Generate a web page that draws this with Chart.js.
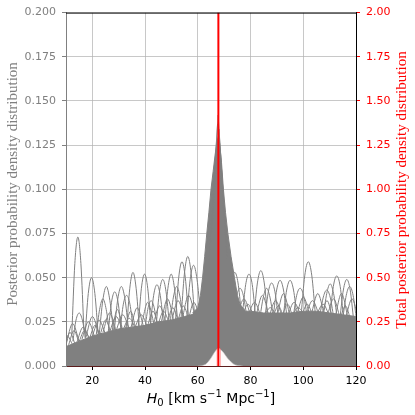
<!DOCTYPE html>
<html>
<head>
<meta charset="utf-8">
<script src="https://cdn.jsdelivr.net/npm/chart.js@4.4.1/dist/chart.umd.min.js"></script>
<style>
  html, body { margin: 0; padding: 0; background: #fff; }
</style>
</head>
<body>
<canvas id="chart" width="415" height="415"></canvas>
<script>
// H0 axis ticks and the measured value of the red line
const h0Ticks = [20, 40, 60, 80, 100, 120];
const h0Best = 67.8;

// solid mass of the overlapping gray posteriors (left axis)
const bandH0 = [10, 15, 20, 25, 30, 35, 40, 45, 50, 55, 60, 75, 80, 85, 90, 95, 100, 105, 110, 115, 120];
const bandTop = [0.011, 0.014, 0.017, 0.019, 0.021, 0.022, 0.023, 0.025, 0.026, 0.028, 0.030,
                 0.031, 0.031, 0.030, 0.030, 0.030, 0.031, 0.031, 0.030, 0.029, 0.028];

// central peak where the posteriors pile up
const peakH0 = [58, 60, 61, 61.8, 62.6, 63.4, 64.2, 65.0, 65.8, 66.6, 67.3, 67.8, 68.3, 69.0, 69.7, 70.5, 71.4, 72.6, 73.9, 75, 76, 78];
const peakTop = [0.030, 0.033, 0.04, 0.05, 0.062, 0.075, 0.087, 0.10, 0.11, 0.12, 0.127, 0.13, 0.126,
                 0.115, 0.10, 0.087, 0.075, 0.062, 0.05, 0.04, 0.035, 0.031];

// thin curves reaching the tip of the peak
const peakTips = [
  [[64.2, 0.06], [67.7, 0.142], [71.2, 0.06]],
  [[64.8, 0.07], [67.5, 0.137], [70.6, 0.07]],
  [[65.2, 0.075], [68.0, 0.134], [70.8, 0.07]]
];

// lobes of the event posteriors that stick out of the mass: [H0, density]
const arches = [
  [[12.2, 0.018], [13.35, 0.058], [14.5, 0.073], [15.65, 0.058], [16.8, 0.020]],
  [[12.6, 0.014], [13.8, 0.026], [15.0, 0.030], [16.2, 0.026], [17.4, 0.016]],
  [[17.2, 0.016], [18.45, 0.041], [19.7, 0.050], [20.95, 0.041], [22.2, 0.018]],
  [[21.5, 0.018], [22.75, 0.032], [24.0, 0.038], [25.25, 0.032], [26.5, 0.019]],
  [[22.6, 0.018], [23.95, 0.037], [25.3, 0.045], [26.65, 0.037], [28.0, 0.020]],
  [[26.0, 0.019], [27.25, 0.036], [28.5, 0.042], [29.75, 0.036], [31.0, 0.020]],
  [[28.3, 0.020], [29.65, 0.038], [31.0, 0.045], [32.35, 0.038], [33.7, 0.021]],
  [[30.5, 0.020], [31.75, 0.035], [33.0, 0.040], [34.25, 0.035], [35.5, 0.021]],
  [[33.0, 0.021], [34.2, 0.044], [35.4, 0.053], [36.6, 0.044], [37.8, 0.022]],
  [[37.4, 0.022], [38.6, 0.044], [39.8, 0.052], [41.0, 0.044], [42.2, 0.023]],
  [[40.0, 0.022], [41.15, 0.033], [42.3, 0.037], [43.45, 0.033], [44.6, 0.023]],
  [[42.0, 0.023], [43.25, 0.040], [44.5, 0.046], [45.75, 0.040], [47.0, 0.024]],
  [[44.2, 0.023], [45.45, 0.042], [46.7, 0.049], [47.95, 0.042], [49.2, 0.024]],
  [[47.4, 0.024], [48.65, 0.044], [49.9, 0.052], [51.15, 0.044], [52.4, 0.025]],
  [[49.5, 0.025], [50.75, 0.039], [52.0, 0.045], [53.25, 0.039], [54.5, 0.026]],
  [[51.5, 0.025], [52.75, 0.050], [54.0, 0.059], [55.25, 0.050], [56.5, 0.027]],
  [[53.6, 0.026], [54.9, 0.052], [56.2, 0.062], [57.5, 0.052], [58.8, 0.028]],
  [[55.8, 0.027], [57.1, 0.049], [58.4, 0.057], [59.7, 0.049], [61.0, 0.030]],
  [[71.5, 0.032], [72.75, 0.047], [74.0, 0.053], [75.25, 0.047], [76.5, 0.030]],
  [[73.5, 0.030], [74.75, 0.040], [76.0, 0.044], [77.25, 0.040], [78.5, 0.029]],
  [[76.9, 0.029], [78.15, 0.046], [79.4, 0.052], [80.65, 0.046], [81.9, 0.028]],
  [[81.3, 0.028], [82.6, 0.047], [83.9, 0.054], [85.2, 0.047], [86.5, 0.028]],
  [[83.6, 0.028], [84.85, 0.039], [86.1, 0.044], [87.35, 0.039], [88.6, 0.028]],
  [[85.5, 0.028], [86.75, 0.042], [88.0, 0.047], [89.25, 0.042], [90.5, 0.028]],
  [[88.6, 0.028], [89.9, 0.043], [91.2, 0.0485], [92.5, 0.043], [93.8, 0.028]],
  [[92.4, 0.028], [93.7, 0.043], [95.0, 0.0485], [96.3, 0.043], [97.6, 0.028]],
  [[96.2, 0.028], [97.5, 0.040], [98.8, 0.044], [100.1, 0.040], [101.4, 0.029]],
  [[99.2, 0.029], [100.55, 0.051], [101.9, 0.059], [103.25, 0.051], [104.6, 0.029]],
  [[106.3, 0.029], [107.6, 0.039], [108.9, 0.043], [110.2, 0.039], [111.5, 0.028]],
  [[107.6, 0.028], [108.9, 0.041], [110.2, 0.0465], [111.5, 0.041], [112.8, 0.028]],
  [[110.1, 0.028], [111.4, 0.045], [112.7, 0.051], [114.0, 0.045], [115.3, 0.027]],
  [[113.9, 0.027], [115.2, 0.043], [116.5, 0.049], [117.8, 0.043], [119.1, 0.026]],
  [[115.0, 0.027], [116.3, 0.040], [117.6, 0.045], [118.9, 0.040], [120.2, 0.026]]
];

// smaller lobes tangled just above the mass
const lowArches = [
  [[9.5, 0.010], [11.5, 0.019], [13.5, 0.012]],
  [[10.0, 0.012], [12.5, 0.024], [15.0, 0.014]],
  [[8.5, 0.010], [10.5, 0.017], [12.5, 0.012]],
  [[11.0, 0.012], [13.0, 0.020], [15.0, 0.013]],
  [[14.0, 0.013], [16.5, 0.022], [19.0, 0.015]],
  [[15.0, 0.014], [17.0, 0.020], [19.0, 0.015]],
  [[16.0, 0.015], [18.5, 0.025], [21.0, 0.016]],
  [[17.5, 0.016], [20.0, 0.028], [22.5, 0.018]],
  [[19.0, 0.016], [21.0, 0.023], [23.0, 0.017]],
  [[20.0, 0.017], [22.5, 0.026], [25.0, 0.018]],
  [[23.0, 0.018], [25.0, 0.026], [27.0, 0.019]],
  [[24.0, 0.019], [26.5, 0.030], [29.0, 0.020]],
  [[26.5, 0.019], [29.0, 0.028], [31.5, 0.020]],
  [[27.5, 0.020], [29.5, 0.032], [31.5, 0.020]],
  [[29.0, 0.020], [31.5, 0.029], [34.0, 0.021]],
  [[31.5, 0.020], [34.0, 0.027], [36.5, 0.021]],
  [[32.5, 0.021], [34.5, 0.031], [36.5, 0.021]],
  [[34.5, 0.021], [37.0, 0.033], [39.5, 0.022]],
  [[36.0, 0.021], [38.5, 0.029], [41.0, 0.022]],
  [[38.5, 0.022], [41.0, 0.036], [43.5, 0.023]],
  [[41.0, 0.023], [43.0, 0.031], [45.0, 0.023]],
  [[43.0, 0.023], [45.5, 0.034], [48.0, 0.024]],
  [[45.0, 0.024], [47.0, 0.031], [49.0, 0.025]],
  [[46.0, 0.024], [48.5, 0.038], [51.0, 0.025]],
  [[48.5, 0.025], [50.5, 0.033], [52.5, 0.026]],
  [[50.0, 0.025], [52.5, 0.037], [55.0, 0.026]],
  [[52.5, 0.026], [54.5, 0.034], [56.5, 0.027]],
  [[54.0, 0.026], [56.5, 0.040], [59.0, 0.028]],
  [[56.5, 0.027], [58.5, 0.036], [60.5, 0.029]],
  [[75.0, 0.029], [77.5, 0.038], [80.0, 0.029]],
  [[77.0, 0.029], [79.0, 0.035], [81.0, 0.029]],
  [[79.0, 0.028], [81.5, 0.036], [84.0, 0.028]],
  [[82.0, 0.028], [84.5, 0.040], [87.0, 0.028]],
  [[85.0, 0.028], [87.5, 0.033], [90.0, 0.028]],
  [[87.0, 0.028], [89.5, 0.037], [92.0, 0.028]],
  [[88.5, 0.028], [90.5, 0.034], [92.5, 0.028]],
  [[90.0, 0.028], [92.5, 0.041], [95.0, 0.028]],
  [[92.0, 0.028], [94.0, 0.035], [96.0, 0.028]],
  [[94.0, 0.028], [96.5, 0.036], [99.0, 0.029]],
  [[95.5, 0.028], [98.0, 0.033], [100.5, 0.029]],
  [[97.5, 0.029], [100.0, 0.039], [102.5, 0.029]],
  [[99.5, 0.029], [101.5, 0.035], [103.5, 0.029]],
  [[101.0, 0.029], [103.5, 0.037], [106.0, 0.029]],
  [[103.0, 0.029], [105.5, 0.041], [108.0, 0.029]],
  [[105.0, 0.029], [107.5, 0.035], [110.0, 0.028]],
  [[107.0, 0.029], [109.0, 0.037], [111.0, 0.028]],
  [[109.0, 0.028], [111.5, 0.038], [114.0, 0.027]],
  [[112.0, 0.027], [114.5, 0.041], [117.0, 0.027]],
  [[114.0, 0.027], [116.0, 0.034], [118.0, 0.026]],
  [[116.0, 0.027], [118.5, 0.038], [121.0, 0.026]]
];

// total posterior (right axis)
const totalH0 = [60, 61.5, 63, 64, 65, 66, 67, 67.8, 68.5, 69.5, 70.5, 71.5, 72.5, 73.5, 75, 77];
const totalDensity = [0, 0.002, 0.01, 0.025, 0.045, 0.07, 0.09, 0.10, 0.095, 0.08, 0.06, 0.04, 0.025, 0.012, 0.003, 0];
const intervalH0 = [67.3, 68.6];
const intervalTop = [0.1, 0.1];

const GRAY = '#808080';
const GRID = 'rgba(176,176,176,0.7)';
const pts = (xs, ys) => xs.map((x, i) => ({ x: x, y: ys[i] }));
const pairs = list => list.map(p => ({ x: p[0], y: p[1] }));

const datasets = [];

datasets.push({
  data: [{ x: h0Best, y: 0 }, { x: h0Best, y: 2 }],
  yAxisID: 'y2', borderColor: '#ff0000', borderWidth: 2
});
intervalH0.forEach((h, i) => {
  datasets.push({
    data: [{ x: h, y: 0 }, { x: h, y: intervalTop[i] }],
    yAxisID: 'y2', borderColor: 'rgba(255,90,90,0.45)', borderWidth: 1
  });
});
datasets.push({
  data: pts(totalH0, totalDensity),
  yAxisID: 'y2', borderColor: 'rgba(200,200,200,0.6)', borderWidth: 1,
  backgroundColor: '#fffafa', fill: 'origin', tension: 0.3
});
peakTips.forEach(t => {
  datasets.push({ data: pairs(t), yAxisID: 'y', borderColor: 'rgba(128,128,128,0.8)', borderWidth: 1 });
});
arches.concat(lowArches).forEach(a => {
  datasets.push({
    data: pairs(a), yAxisID: 'y', borderColor: GRAY, borderWidth: 1,
    cubicInterpolationMode: 'monotone'
  });
});
datasets.push({
  data: pts(peakH0, peakTop), yAxisID: 'y',
  borderColor: GRAY, borderWidth: 1, backgroundColor: GRAY, fill: 'origin'
});
datasets.push({
  data: pts(bandH0, bandTop), yAxisID: 'y',
  borderColor: GRAY, borderWidth: 1, backgroundColor: GRAY, fill: 'origin'
});

// top spine plus the three axis titles (right one reads bottom to top, like the left)
const frameAndTitles = {
  id: 'frameAndTitles',
  afterDraw(chart) {
    const { ctx, chartArea: a } = chart;
    ctx.save();
    ctx.strokeStyle = '#000';
    ctx.lineWidth = 1;
    ctx.beginPath();
    ctx.moveTo(a.left, a.top + 0.5);
    ctx.lineTo(a.right, a.top + 0.5);
    ctx.stroke();

    ctx.font = '15px "Liberation Serif"';
    ctx.textAlign = 'center';
    ctx.textBaseline = 'middle';
    ctx.fillStyle = GRAY;
    ctx.save();
    ctx.translate(13, 184);
    ctx.rotate(-Math.PI / 2);
    ctx.fillText('Posterior probability density distribution', 0, 0);
    ctx.restore();
    ctx.fillStyle = '#ff0000';
    ctx.save();
    ctx.translate(402, 190);
    ctx.rotate(-Math.PI / 2);
    ctx.fillText('Total posterior probability density distribution', 0, 0);
    ctx.restore();

    // H0 [km s^-1 Mpc^-1]
    const parts = [
      { t: 'H', f: 'italic 14px "DejaVu Sans"', dy: 0 },
      { t: '0', f: '10px "DejaVu Sans"', dy: 3 },
      { t: ' [km s', f: '14px "DejaVu Sans"', dy: 0 },
      { t: '\u22121', f: '10px "DejaVu Sans"', dy: -6 },
      { t: ' Mpc', f: '14px "DejaVu Sans"', dy: 0 },
      { t: '\u22121', f: '10px "DejaVu Sans"', dy: -6 },
      { t: ']', f: '14px "DejaVu Sans"', dy: 0 }
    ];
    ctx.textAlign = 'left';
    ctx.textBaseline = 'alphabetic';
    ctx.fillStyle = '#000';
    let w = 0;
    parts.forEach(p => { ctx.font = p.f; p.w = ctx.measureText(p.t).width; w += p.w; });
    let x = (a.left + a.right) / 2 - w / 2;
    parts.forEach(p => { ctx.font = p.f; ctx.fillText(p.t, x, 403 + p.dy); x += p.w; });
    ctx.restore();
  }
};

new Chart(document.getElementById('chart'), {
  type: 'line',
  data: { datasets: datasets },
  options: {
    responsive: false,
    animation: false,
    layout: { padding: { top: 10, left: 0, right: 0, bottom: 0 } },
    elements: { point: { radius: 0 }, line: { tension: 0 } },
    plugins: { legend: { display: false }, tooltip: { enabled: false } },
    scales: {
      x: {
        type: 'linear', min: 10, max: 120, z: 1,
        afterBuildTicks: s => { s.ticks = h0Ticks.map(v => ({ value: v })); },
        afterFit: s => { s.height = 49; },
        grid: { color: GRID, tickLength: 4, tickColor: '#000' },
        border: { color: '#5c1c1c', width: 1 },
        ticks: { color: '#000', font: { family: 'DejaVu Sans', size: 11 }, padding: 5, maxRotation: 0 }
      },
      y: {
        type: 'linear', position: 'left', min: 0, max: 0.2, z: 1,
        afterFit: s => { s.width = 66; },
        grid: { color: GRID, tickLength: 4, tickColor: GRAY },
        border: { color: GRAY, width: 1 },
        ticks: {
          stepSize: 0.025, color: GRAY, padding: 6,
          font: { family: 'DejaVu Sans', size: 11 },
          callback: v => v.toFixed(3)
        }
      },
      y2: {
        type: 'linear', position: 'right', min: 0, max: 2,
        afterFit: s => { s.width = 59; },
        grid: { drawOnChartArea: false, tickLength: 4, tickColor: '#ff0000' },
        border: { color: '#000', width: 1 },
        ticks: {
          stepSize: 0.25, color: '#ff0000', padding: 6,
          font: { family: 'DejaVu Sans', size: 11 },
          callback: v => v.toFixed(2)
        }
      }
    }
  },
  plugins: [frameAndTitles]
});
</script>
</body>
</html>
